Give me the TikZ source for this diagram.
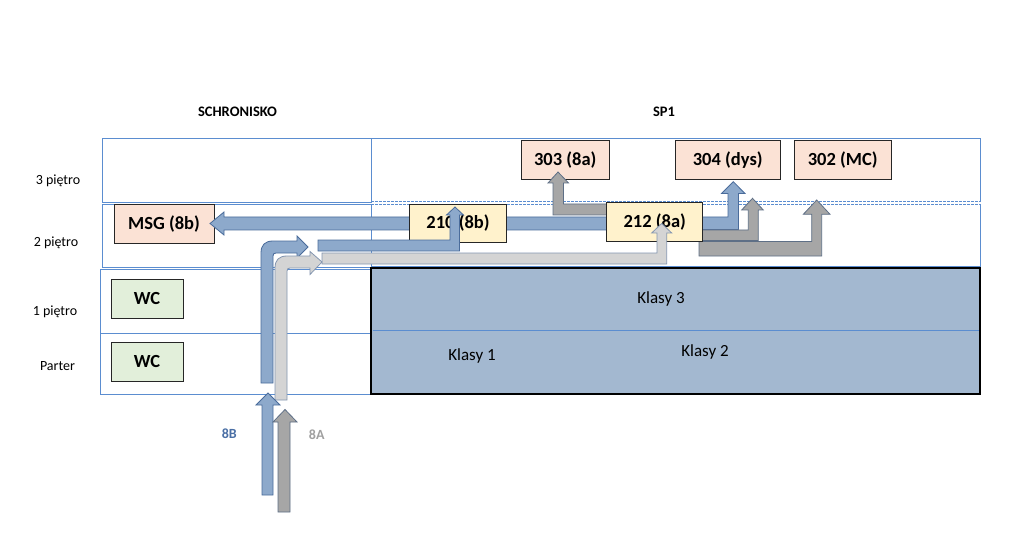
\documentclass[tikz,border=0pt]{standalone}
\usepackage{fontspec}
\setmainfont{Carlito}
\definecolor{gridc}{HTML}{5B8DD0}
\definecolor{klasyc}{HTML}{A3B8D0}
\definecolor{salmon}{HTML}{FBE2D5}
\definecolor{yel}{HTML}{FFF2CC}
\definecolor{wcg}{HTML}{E2EFDA}
\definecolor{ablue}{HTML}{8DA9CB}
\definecolor{ablueo}{HTML}{4A6C9B}
\definecolor{agray}{HTML}{A6A6A6}
\definecolor{agrayo}{HTML}{5E6F86}
\definecolor{alight}{HTML}{D4D4D4}
\definecolor{alighto}{HTML}{8496B0}
\definecolor{lbl8b}{HTML}{4A6FA5}
\definecolor{lbl8a}{HTML}{A0A0A0}
\tikzset{
  gridln/.style={draw=gridc, line width=0.8pt},
  roombox/.style={draw=black!85, line width=1pt, inner sep=0pt, font=\fontsize{18.5}{20}\selectfont\bfseries},
  salmonbox/.style={roombox, fill=salmon},
  yelbox/.style={roombox, fill=yel},
  wcbox/.style={roombox, fill=wcg},
  floorlbl/.style={font=\fontsize{14}{16}\selectfont, inner sep=0pt},
  headlbl/.style={font=\fontsize{14.5}{16}\selectfont\bfseries, inner sep=0pt},
  klasylbl/.style={font=\fontsize{17}{19}\selectfont, inner sep=0pt},
  arrblue/.style={fill=ablue, draw=ablueo, line width=0.8pt, line join=miter},
  arrgray/.style={fill=agray, draw=agrayo, line width=0.8pt, line join=miter},
  arrlight/.style={fill=alight, draw=alighto, line width=0.8pt, line join=miter},
}
\begin{document}
\begin{tikzpicture}[x=1pt,y=-1pt]
\useasboundingbox[fill=white] (0,0) rectangle (1024,545);

% headings and floor labels
\node[headlbl] (hschr) at (237.5,112) {SCHRONISKO};
\node[headlbl] (hsp1) at (664,112) {SP1};
\node[floorlbl] (f3) at (58,181) {3 piętro};
\node[floorlbl] (f2) at (56,243) {2 piętro};
\node[floorlbl] (f1) at (55,312) {1 piętro};
\node[floorlbl] (f0) at (57.5,366) {Parter};

% grid
\draw[gridln] (102,138) rectangle (371,202);
\draw[gridln] (102,204) rectangle (371,267);
\draw[gridln] (100,269) rectangle (371,333);
\draw[gridln] (100,333) rectangle (371,394);
\draw[gridln] (371,202) -- (371,138) -- (980,138) -- (980,202);
\draw[gridln, dashed, dash pattern=on 3pt off 1pt] (371,201) -- (980,201);
\draw[gridln, dashed, dash pattern=on 3pt off 1pt] (371,204) -- (980,204);
\draw[gridln] (371,204) -- (371,266) -- (980,266) -- (980,204);

% classes block
\draw[line width=2.6pt, fill=klasyc] (371,268) rectangle (980,394);
\draw[gridln, line width=1pt] (372.5,330) -- (978.5,330);
\node[klasylbl] (k3) at (661,299) {Klasy 3};
\node[klasylbl] (k1) at (472,356) {Klasy 1};
\node[klasylbl] (k2) at (705,352) {Klasy 2};

% rooms on floors 3 and 2 (left)
\node[salmonbox, minimum width=88.3pt, minimum height=38.6pt] (r303) at (565.2,160) {303 (8a)};
\node[salmonbox, minimum width=104.7pt, minimum height=38.6pt] (r304) at (727.7,160) {304 (dys)};
\node[salmonbox, minimum width=96.7pt, minimum height=38.6pt] (r302) at (842.7,160) {302 (MC)};
\node[salmonbox, minimum width=100pt, minimum height=38.5pt] (msg) at (164,224) {MSG (8b)};
\node[wcbox, minimum width=72pt, minimum height=39pt] (wc1) at (147,298.5) {WC};
\node[wcbox, minimum width=72pt, minimum height=39pt] (wc0) at (147,361.5) {WC};

% arrows behind 210 / 212
\draw[arrblue] (608,217) -- (224,217) -- (224,212) -- (210,223.5) -- (224,235) -- (224,230) -- (608,230) -- cycle;
\draw[arrgray] (608,204) -- (563.5,204) -- (563.5,183) -- (568.5,183) -- (558,172) -- (548,183) -- (553,183) -- (553,215) -- (608,215) -- cycle;
\draw[arrblue] (700,217) -- (728,217) -- (728,193.5) -- (721.5,193.5) -- (733.3,181.7) -- (745,193.5) -- (738.5,193.5) -- (738.5,229.5) -- (700,229.5) -- cycle;
\draw[arrgray] (700,230) -- (748.3,230) -- (748.3,210) -- (741.7,210) -- (752.5,198.3) -- (763.3,210) -- (758.3,210) -- (758.3,240.5) -- (700,240.5) -- cycle;
\draw[arrgray] (699,241.5) -- (811.7,241.5) -- (811.7,214.3) -- (803.3,214.3) -- (816.7,200) -- (830,214.3) -- (821.7,214.3) -- (821.7,256) -- (699,256) -- cycle;

% rooms on floor 2 (right)
\node[yelbox, minimum width=97.4pt, minimum height=38.7pt] (r210) at (458,223.4) {210 (8b)};
\node[yelbox, minimum width=96pt, minimum height=38.3pt] (r212) at (654.7,221.9) {212 (8a)};

% arrows in front
\draw[arrblue] (318,240) -- (450,240) -- (450,215) -- (446.5,215) -- (455,207) -- (463.5,215) -- (459.5,215) -- (459.5,251) -- (318,251) -- cycle;
\draw[arrlight] (322,253) -- (657,253) -- (657,233) -- (651.7,233) -- (661.7,223.5) -- (671.7,233) -- (666.7,233) -- (666.7,264) -- (322,264) -- cycle;
\draw[arrblue] (261,383) -- (261,253) .. controls (261,245) and (265,241) .. (273,241) -- (297,241) -- (297,236) -- (308,247) -- (297,258) -- (297,253) -- (276,253) .. controls (274,253) and (273,254) .. (273,256) -- (273,383) -- cycle;
\draw[arrlight] (275,400) -- (275,268) .. controls (275,260) and (279,256) .. (287,256) -- (310,256) -- (310,251.5) -- (322,262) -- (310,274.5) -- (310,268) -- (290,268) .. controls (288,268) and (287,269) .. (287,271) -- (287,400) -- cycle;
\draw[arrblue] (262,495) -- (273,495) -- (273,405) -- (280,405) -- (268,393) -- (256,405) -- (262,405) -- cycle;
\draw[arrgray] (278,512) -- (290,512) -- (290,422) -- (297,422) -- (285,409.5) -- (273,422) -- (278,422) -- cycle;

\node[font=\fontsize{14}{16}\selectfont\bfseries, text=lbl8b, inner sep=0pt] (l8b) at (229.3,434) {8B};
\node[font=\fontsize{14}{16}\selectfont\bfseries, text=lbl8a, inner sep=0pt] (l8a) at (316.7,435) {8A};
\end{tikzpicture}
\end{document}
